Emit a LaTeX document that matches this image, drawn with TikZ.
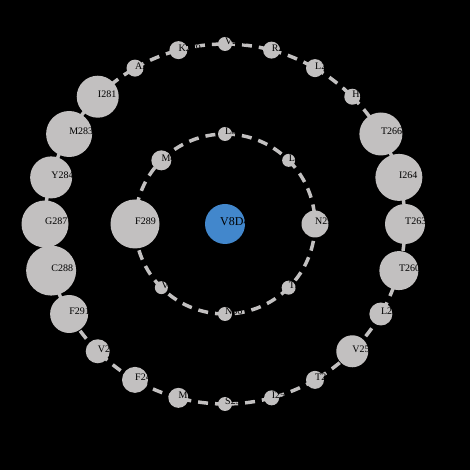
\documentclass[tikz,border=0pt]{standalone}
\usepackage{fontspec}
\setmainfont{Liberation Serif}
\usetikzlibrary{calc}
\definecolor{resgray}{RGB}{194,192,192}
\definecolor{ligblue}{RGB}{66,135,204}
\pgfdeclarelayer{bg}
\pgfdeclarelayer{links}
\pgfsetlayers{bg,links,main}
\begin{document}
\begin{tikzpicture}[x=1pt,y=1pt,
  bond/.style={draw=resgray, line width=3.5pt, dash pattern=on 10pt off 7pt},
  resnode/.style={circle, fill=resgray, inner sep=0pt, minimum size=#1},
  tag/.style={anchor=base west, font=\fontsize{10}{12}\selectfont, text=black, inner sep=0pt}]
\begin{pgfonlayer}{bg}
  \fill[black] (0,0) rectangle (470,470);
\end{pgfonlayer}
\useasboundingbox (0,0) rectangle (470,470);
\coordinate (c) at (225,246);

% ligand at the centre
\node[circle, fill=ligblue, inner sep=0pt, minimum size=40pt] (lig) at (c) {};
\node[tag, font=\fontsize{12}{14}\selectfont] (ligtag) at ($(lig.center)+(-5,-1.5)$) {V8D4};

% first shell of residues
\foreach \k/\d/\t in {0/14/L30,1/13/L34,2/27/N29,3/14/T33,4/14/N36,5/13/V38,6/49/F289,7/20/M40} {
  \node[resnode=\d pt] (i\k) at ($(c)+({90-45*\k}:90)$) {};
  \node[tag] (it\k) at ($(i\k.center)+(0,-1)$) {\t};
}

% second shell of residues
\foreach \k/\d/\t in {0/14/V269,1/17/R270,2/18/L271,3/16/H267,4/43/T266,5/47/I264,6/40/T263,7/39/T260,
                      8/23/L259,9/32/V256,10/18/T255,11/15/I252,12/14/S251,13/20/M250,14/26/F248,15/24/V247,
                      16/38/F291,17/50/C288,18/47/G287,19/42/Y284,20/46/M283,21/42/I281,22/17/A280,23/18/K279} {
  \node[resnode=\d pt] (o\k) at ($(c)+({90-15*\k}:180)$) {};
  \node[tag] (ot\k) at ($(o\k.center)+(0,-1)$) {\t};
}

% dashed contacts along each shell
\begin{pgfonlayer}{links}
  \foreach \k in {0,...,7} {
    \draw[bond] (i\k.center) arc[start angle={90-45*\k}, end angle={45-45*\k}, radius=90];
  }
  \foreach \k in {0,...,23} {
    \draw[bond] (o\k.center) arc[start angle={90-15*\k}, end angle={75-15*\k}, radius=180];
  }
\end{pgfonlayer}
\end{tikzpicture}
\end{document}
